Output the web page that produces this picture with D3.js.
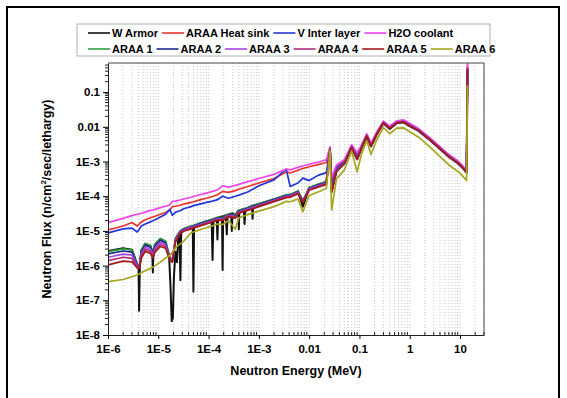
<!DOCTYPE html>
<html>
<head>
<meta charset="utf-8">
<script src="https://d3js.org/d3.v7.min.js"></script>
<style>
  body { margin: 0; background: #fff; }
  svg text { font-family: "Liberation Sans", Arial, sans-serif; font-weight: bold; fill: #000; }
</style>
</head>
<body>
<svg id="chart" width="567" height="398"></svg>
<script>
// neutron energy grid (MeV), shared by the smooth layers
let energy = [1e-6, 2e-6, 3e-6, 3.8e-6, 4.2e-6, 4.6e-6, 5.5e-6, 7e-6, 7.8e-6, 8.6e-6,
  1.1e-5, 1.4e-5, 1.7e-5, 1.9e-5, 2.2e-5, 2.7e-5, 3.2e-5, 4.5e-5, 5e-5, 7e-5,
  9e-5, 1.2e-4, 1.5e-4, 1.9e-4, 2.5e-4, 3.4e-4, 4e-4, 6e-4, 1e-3, 2e-3,
  3.5e-3, 4.2e-3, 6e-3, 7.5e-3, 1e-2, 1.5e-2, 2.2e-2, 2.6e-2, 2.8e-2, 3.5e-2,
  5e-2, 7e-2, 9e-2, 0.11, 0.14, 0.17, 0.22, 0.3, 0.4, 0.55,
  0.75, 1, 1.5, 2.5, 4, 6, 9, 11, 13.5, 14.1];

// finer grid for the W armor, which has narrow resonance dips
let wEnergy = [1e-6, 2e-6, 3e-6, 3.8e-6, 4.05e-6, 4.15e-6, 4.3e-6, 4.6e-6, 5.5e-6, 7e-6,
  7.6e-6, 7.8e-6, 8e-6, 8.6e-6, 1.1e-5, 1.4e-5, 1.65e-5, 1.75e-5, 1.85e-5, 1.95e-5,
  2.05e-5, 2.2e-5, 2.35e-5, 2.5e-5, 2.65e-5, 2.75e-5, 2.85e-5, 3.2e-5, 4.5e-5, 4.85e-5,
  5e-5, 5.15e-5, 7e-5, 9e-5, 1.15e-4, 1.2e-4, 1.25e-4, 1.45e-4, 1.5e-4, 1.55e-4,
  1.85e-4, 1.9e-4, 1.95e-4, 2.2e-4, 2.3e-4, 2.4e-4, 2.8e-4, 2.9e-4, 3e-4, 3.4e-4,
  3.9e-4, 4e-4, 4.1e-4, 5e-4, 5.2e-4, 5.4e-4, 7.3e-4, 7.5e-4, 7.7e-4, 1e-3,
  2e-3, 3.5e-3, 4.2e-3, 6e-3, 7.5e-3, 1e-2, 1.5e-2, 2.2e-2, 2.6e-2, 2.8e-2,
  3.5e-2, 5e-2, 7e-2, 9e-2, 0.11, 0.14, 0.17, 0.22, 0.3, 0.4,
  0.55, 0.75, 1, 1.5, 2.5, 4, 6, 9, 11, 13.5, 14.1];

// log10 of the flux (n/cm2/sec/lethargy)
let wArmor = [-5.58, -5.50, -5.54, -5.96, -6.00, -7.30, -6.00, -5.56, -5.37, -5.43,
  -5.60, -6.20, -5.60, -5.39, -5.23, -5.31, -5.80, -6.60, -7.60, -7.50,
  -6.30, -5.60, -5.90, -5.20, -5.10, -6.42, -5.05, -4.95, -4.87, -4.90,
  -6.75, -4.85, -4.78, -4.72, -4.69, -5.84, -4.68, -4.63, -5.25, -4.62,
  -4.58, -6.13, -4.58, -4.55, -5.10, -4.53, -4.50, -5.00, -4.49, -4.55,
  -4.42, -4.95, -4.42, -4.37, -4.80, -4.36, -4.28, -4.65, -4.27, -4.22,
  -4.09, -3.97, -3.96, -3.86, -4.30, -3.76, -3.67, -3.59, -2.64, -3.85,
  -3.26, -3.06, -2.60, -2.94, -2.62, -2.28, -2.57, -2.23, -1.90, -2.06,
  -1.90, -1.87, -1.98, -2.12, -2.38, -2.64, -2.87, -3.05, -3.17, -3.32, -0.40];
let heatSink = [-4.97, -4.86, -4.76, -4.86, -4.80, -4.74, -4.68, -4.62, -4.60, -4.58,
  -4.52, -4.47, -4.40, -4.30, -4.29, -4.26, -4.23, -4.18, -4.16, -4.10,
  -4.06, -4.01, -3.96, -3.86, -3.89, -3.84, -3.80, -3.72, -3.62, -3.49,
  -3.30, -3.33, -3.25, -3.20, -3.15, -3.09, -3.03, -2.60, -3.55, -3.15,
  -2.98, -2.54, -2.78, -2.55, -2.22, -2.50, -2.17, -1.85, -2.00, -1.85,
  -1.82, -1.92, -2.07, -2.33, -2.59, -2.82, -3.00, -3.12, -3.29, -0.20];
let vInterLayer = [-5.06, -4.94, -4.92, -5.03, -4.95, -4.86, -4.80, -4.74, -4.71, -4.68,
  -4.60, -4.52, -4.38, -4.55, -4.46, -4.42, -4.36, -4.30, -4.27, -4.22,
  -4.18, -4.14, -4.10, -4.00, -4.06, -4.00, -3.97, -3.88, -3.70, -3.53,
  -3.22, -3.72, -3.62, -3.48, -3.55, -3.40, -3.32, -2.63, -3.70, -3.20,
  -3.00, -2.56, -2.80, -2.56, -2.24, -2.52, -2.19, -1.86, -2.01, -1.86,
  -1.83, -1.93, -2.08, -2.34, -2.60, -2.83, -3.01, -3.13, -3.30, -0.30];
let h2oCoolant = [-4.76, -4.64, -4.56, -4.52, -4.51, -4.49, -4.46, -4.41, -4.40, -4.38,
  -4.33, -4.29, -4.25, -4.15, -4.14, -4.11, -4.08, -4.03, -4.01, -3.95,
  -3.91, -3.86, -3.82, -3.70, -3.74, -3.69, -3.66, -3.58, -3.49, -3.37,
  -3.22, -3.24, -3.17, -3.13, -3.08, -3.02, -2.95, -2.58, -3.45, -3.10,
  -2.95, -2.52, -2.75, -2.52, -2.20, -2.48, -2.15, -1.84, -1.98, -1.83,
  -1.80, -1.90, -2.05, -2.31, -2.57, -2.80, -2.98, -3.10, -3.27, -0.10];
let araa1 = [-5.60, -5.52, -5.55, -5.95, -6.02, -5.55, -5.36, -5.42, -5.62, -5.38,
  -5.22, -5.30, -5.75, -5.85, -5.20, -5.00, -4.93, -4.86, -4.84, -4.77,
  -4.72, -4.66, -4.61, -4.62, -4.51, -4.55, -4.41, -4.33, -4.22, -4.08,
  -3.96, -3.95, -3.85, -4.12, -3.75, -3.66, -3.58, -2.63, -3.85, -3.25,
  -3.05, -2.58, -2.92, -2.60, -2.26, -2.55, -2.21, -1.88, -2.04, -1.88,
  -1.85, -1.96, -2.10, -2.36, -2.62, -2.85, -3.03, -3.15, -3.30, -0.35];
let araa2 = [-5.66, -5.58, -5.61, -5.98, -6.04, -5.60, -5.41, -5.47, -5.65, -5.43,
  -5.27, -5.35, -5.78, -5.87, -5.23, -5.02, -4.95, -4.88, -4.86, -4.79,
  -4.74, -4.68, -4.63, -4.64, -4.53, -4.57, -4.43, -4.35, -4.24, -4.10,
  -3.98, -3.97, -3.87, -4.14, -3.77, -3.68, -3.60, -2.64, -3.86, -3.26,
  -3.06, -2.59, -2.93, -2.61, -2.27, -2.56, -2.22, -1.89, -2.05, -1.89,
  -1.86, -1.97, -2.11, -2.37, -2.63, -2.86, -3.04, -3.16, -3.31, -0.35];
let araa3 = [-5.76, -5.67, -5.70, -6.01, -6.06, -5.66, -5.47, -5.53, -5.70, -5.49,
  -5.33, -5.40, -5.80, -5.88, -5.26, -5.04, -4.97, -4.90, -4.88, -4.81,
  -4.76, -4.70, -4.65, -4.66, -4.55, -4.59, -4.45, -4.37, -4.26, -4.12,
  -4.00, -3.99, -3.89, -4.15, -3.79, -3.70, -3.62, -2.64, -3.87, -3.27,
  -3.04, -2.57, -2.91, -2.59, -2.25, -2.54, -2.20, -1.87, -2.03, -1.87,
  -1.84, -1.95, -2.09, -2.35, -2.61, -2.84, -3.02, -3.14, -3.29, -0.30];
let araa4 = [-5.86, -5.76, -5.79, -6.04, -6.07, -5.72, -5.53, -5.59, -5.74, -5.55,
  -5.39, -5.45, -5.82, -5.89, -5.29, -5.06, -4.99, -4.92, -4.90, -4.83,
  -4.78, -4.72, -4.67, -4.68, -4.57, -4.61, -4.47, -4.39, -4.28, -4.14,
  -4.02, -4.01, -3.91, -4.16, -3.81, -3.72, -3.64, -2.65, -3.88, -3.28,
  -3.05, -2.58, -2.92, -2.60, -2.26, -2.55, -2.21, -1.88, -2.04, -1.88,
  -1.85, -1.96, -2.10, -2.36, -2.62, -2.85, -3.03, -3.15, -3.30, -0.30];
let araa5 = [-5.98, -5.87, -5.89, -6.07, -6.08, -5.78, -5.59, -5.65, -5.78, -5.61,
  -5.45, -5.50, -5.84, -5.90, -5.32, -5.08, -5.01, -4.94, -4.92, -4.85,
  -4.80, -4.74, -4.69, -4.70, -4.59, -4.63, -4.49, -4.41, -4.30, -4.16,
  -4.04, -4.03, -3.93, -4.18, -3.83, -3.74, -3.66, -2.65, -3.89, -3.29,
  -3.06, -2.59, -2.93, -2.61, -2.27, -2.56, -2.22, -1.89, -2.05, -1.89,
  -1.86, -1.97, -2.11, -2.37, -2.63, -2.86, -3.04, -3.16, -3.31, -0.35];
let araa6 = [-6.46, -6.40, -6.32, -6.27, -6.24, -6.20, -6.15, -6.08, -6.05, -6.00,
  -5.90, -5.78, -5.70, -5.62, -5.48, -5.38, -5.30, -5.05, -5.03, -4.96,
  -4.91, -4.85, -4.80, -4.82, -4.70, -4.95, -4.62, -4.53, -4.43, -4.30,
  -4.15, -4.16, -4.08, -4.45, -3.98, -3.88, -3.78, -2.68, -4.40, -3.50,
  -3.25, -2.70, -3.30, -2.78, -2.40, -2.80, -2.38, -2.02, -2.20, -2.04,
  -2.03, -2.14, -2.30, -2.58, -2.86, -3.10, -3.28, -3.40, -3.55, -0.80];

let seriesNames = ['W Armor', 'ARAA Heat sink', 'V Inter layer', 'H2O coolant',
  'ARAA 1', 'ARAA 2', 'ARAA 3', 'ARAA 4', 'ARAA 5', 'ARAA 6'];
let seriesValues = [wArmor, heatSink, vInterLayer, h2oCoolant,
  araa1, araa2, araa3, araa4, araa5, araa6];
let seriesEnergy = [wEnergy, energy, energy, energy,
  energy, energy, energy, energy, energy, energy];
let colors = ['#111111', '#e8342c', '#2236d8', '#ec46ec',
  '#2f9e3c', '#1d2a8e', '#a248e6', '#b02c7a', '#a01a1a', '#a6a61e'];

let xTickValues = [1e-6, 1e-5, 1e-4, 1e-3, 0.01, 0.1, 1, 10];
let xTickLabels = ['1E-6', '1E-5', '1E-4', '1E-3', '0.01', '0.1', '1', '10'];
let yTickValues = [1e-8, 1e-7, 1e-6, 1e-5, 1e-4, 1e-3, 0.01, 0.1];
let yTickLabels = ['1E-8', '1E-7', '1E-6', '1E-5', '1E-4', '1E-3', '0.01', '0.1'];

let svg = d3.select('#chart');
let plotLeft = 108, plotRight = 484, plotTop = 63, plotBottom = 335;

let x = d3.scaleLog().domain([1e-6, 30]).range([plotLeft, plotRight]);
let y = d3.scaleLog().domain([1e-8, 0.69]).range([plotBottom, plotTop]);

// outer frame
svg.append('rect')
  .attr('x', 7).attr('y', 7).attr('width', 552).attr('height', 400)
  .attr('fill', 'none').attr('stroke', '#000').attr('stroke-width', 2);

// minor positions for the log axes
function logMinors(lo, hi) {
  let out = [];
  for (let d = Math.floor(Math.log10(lo)); d <= Math.ceil(Math.log10(hi)); d++) {
    for (let m = 1; m <= 9; m++) {
      let v = m * Math.pow(10, d);
      if (v >= lo * 0.999 && v <= hi * 1.001) out.push(v);
    }
  }
  return out;
}
let xMinor = logMinors(1e-6, 30);
let yMinor = logMinors(1e-8, 0.69);

// dotted vertical grid
svg.append('g').selectAll('line')
  .data(xMinor.filter(v => v > 1e-6))
  .enter().append('line')
  .attr('x1', d => x(d)).attr('x2', d => x(d))
  .attr('y1', plotTop).attr('y2', plotBottom)
  .attr('stroke', '#b8b8b8').attr('stroke-width', 0.8)
  .attr('stroke-dasharray', '1,2');

// curves
svg.append('clipPath').attr('id', 'clip')
  .append('rect').attr('x', plotLeft).attr('y', plotTop)
  .attr('width', plotRight - plotLeft).attr('height', plotBottom - plotTop);

svg.append('g').attr('clip-path', 'url(#clip)')
  .selectAll('path')
  .data(seriesValues)
  .enter().append('path')
  .attr('d', (d, k) => d3.line()
    .x((v, i) => x(seriesEnergy[k][i]))
    .y(v => y(Math.pow(10, v)))(d))
  .attr('fill', 'none')
  .attr('stroke', (d, i) => colors[i])
  .attr('stroke-width', (d, i) => i == 0 ? 2 : 1.7)
  .attr('stroke-linejoin', 'round');

// axes
let xAxis = svg.append('g')
  .attr('transform', 'translate(0,' + plotBottom + ')')
  .call(d3.axisBottom(x).tickValues(xTickValues)
    .tickFormat((d, i) => xTickLabels[i]).tickSize(4).tickSizeOuter(0).tickPadding(6));
xAxis.selectAll('text').attr('font-size', 11.5);

let yAxis = svg.append('g')
  .attr('transform', 'translate(' + plotLeft + ',0)')
  .call(d3.axisLeft(y).tickValues(yTickValues)
    .tickFormat((d, i) => yTickLabels[i]).tickSize(5).tickSizeOuter(0).tickPadding(3));
yAxis.selectAll('text').attr('font-size', 11.5);

svg.selectAll('.domain').attr('stroke', '#222');

svg.append('g').selectAll('line')
  .data(xMinor.filter(v => xTickValues.indexOf(v) < 0))
  .enter().append('line')
  .attr('x1', d => x(d)).attr('x2', d => x(d))
  .attr('y1', plotBottom).attr('y2', plotBottom - 3)
  .attr('stroke', '#222');

svg.append('g').selectAll('line')
  .data(yMinor.filter(v => yTickValues.indexOf(v) < 0))
  .enter().append('line')
  .attr('x1', plotLeft).attr('x2', plotLeft - 3)
  .attr('y1', d => y(d)).attr('y2', d => y(d))
  .attr('stroke', '#222');

// top and right border
svg.append('path')
  .attr('d', 'M' + plotLeft + ',' + plotTop + 'H' + plotRight + 'V' + plotBottom)
  .attr('fill', 'none').attr('stroke', '#444');

// axis titles
svg.append('text')
  .attr('x', (plotLeft + plotRight) / 2).attr('y', 375)
  .attr('text-anchor', 'middle').attr('font-size', 12.5)
  .text('Neutron Energy (MeV)');

let yt = svg.append('text')
  .attr('transform', 'translate(51,' + (plotTop + plotBottom) / 2 + ') rotate(-90)')
  .attr('text-anchor', 'middle').attr('font-size', 12.5);
yt.append('tspan').text('Neutron Flux (n/cm');
yt.append('tspan').attr('font-size', 8).attr('dy', -5).text('2');
yt.append('tspan').attr('dy', 5).text('/sec/lethargy)');

// legend
let legend = svg.append('g');
legend.append('rect')
  .attr('x', 77).attr('y', 24).attr('width', 413).attr('height', 32)
  .attr('fill', '#fff').attr('stroke', '#b0b0b0');

let rows = [[0, 1, 2, 3], [4, 5, 6, 7, 8, 9]];
rows.forEach((row, r) => {
  let cx = 88;
  let cy = 33 + r * 16;
  row.forEach(i => {
    legend.append('line')
      .attr('x1', cx).attr('x2', cx + 22).attr('y1', cy).attr('y2', cy)
      .attr('stroke', colors[i]).attr('stroke-width', 1.6);
    let t = legend.append('text')
      .attr('x', cx + 24).attr('y', cy + 4)
      .attr('font-size', 11).text(seriesNames[i]);
    cx += 24 + t.node().getComputedTextLength() + 4;
  });
});
</script>
</body>
</html>
